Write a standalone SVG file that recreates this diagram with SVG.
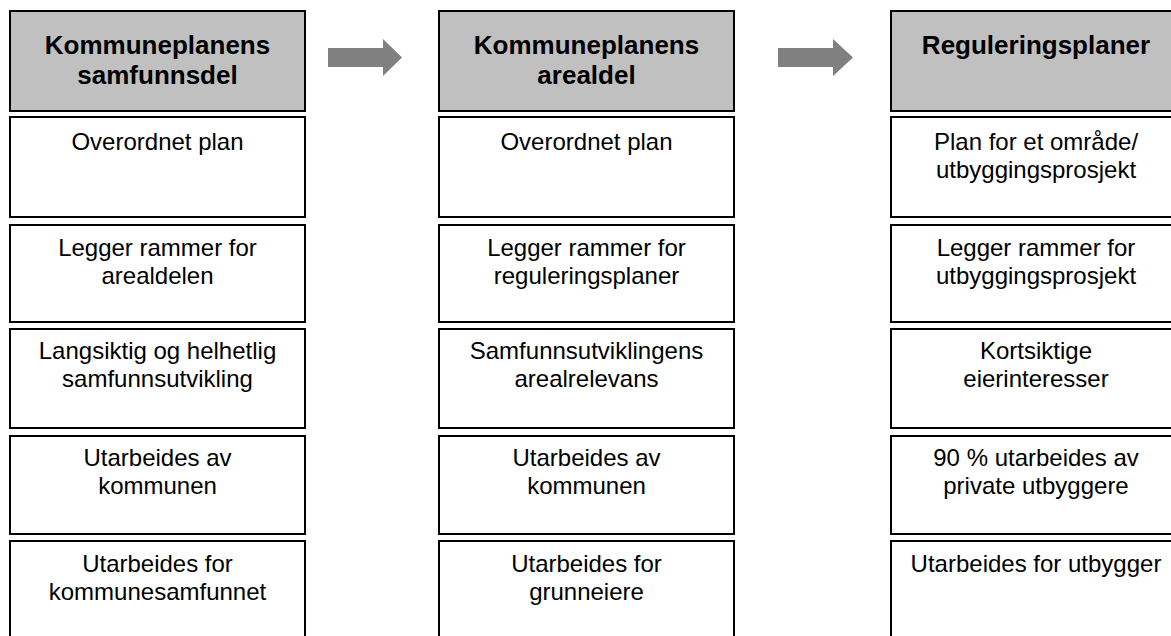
<svg xmlns="http://www.w3.org/2000/svg" width="1171" height="636" viewBox="0 0 1171 636">
<style>
.hd{fill:#c0c0c0;stroke:#000;stroke-width:2}
.bx{fill:#fff;stroke:#000;stroke-width:2}
.h{font-family:"Liberation Sans",Arial,sans-serif;font-weight:bold;font-size:26px;fill:#000;text-anchor:middle}
.t{font-family:"Liberation Sans",Arial,sans-serif;font-size:24px;fill:#000;text-anchor:middle}
.ar{fill:#808080}
</style>
<rect width="1171" height="636" fill="#fff"/>
<g id="col1">
<g id="c1h"><rect class="hd" x="10" y="11" width="295" height="100"/><text class="h" x="157.5" y="54">Kommuneplanens</text><text class="h" x="157.5" y="84">samfunnsdel</text></g>
<g id="c1r1"><rect class="bx" x="10" y="117" width="295" height="100"/><text class="t" x="157.5" y="150">Overordnet plan</text></g>
<g id="c1r2"><rect class="bx" x="10" y="225" width="295" height="97"/><text class="t" x="157.5" y="256">Legger rammer for</text><text class="t" x="157.5" y="284">arealdelen</text></g>
<g id="c1r3"><rect class="bx" x="10" y="329" width="295" height="99"/><text class="t" x="157.5" y="359">Langsiktig og helhetlig</text><text class="t" x="157.5" y="387">samfunnsutvikling</text></g>
<g id="c1r4"><rect class="bx" x="10" y="436" width="295" height="98"/><text class="t" x="157.5" y="466">Utarbeides av</text><text class="t" x="157.5" y="494">kommunen</text></g>
<g id="c1r5"><rect class="bx" x="10" y="541" width="295" height="110"/><text class="t" x="157.5" y="572">Utarbeides for</text><text class="t" x="157.5" y="600">kommunesamfunnet</text></g>
</g>
<g id="col2">
<g id="c2h"><rect class="hd" x="439" y="11" width="295" height="100"/><text class="h" x="586.5" y="54">Kommuneplanens</text><text class="h" x="586.5" y="84">arealdel</text></g>
<g id="c2r1"><rect class="bx" x="439" y="117" width="295" height="100"/><text class="t" x="586.5" y="150">Overordnet plan</text></g>
<g id="c2r2"><rect class="bx" x="439" y="225" width="295" height="97"/><text class="t" x="586.5" y="256">Legger rammer for</text><text class="t" x="586.5" y="284">reguleringsplaner</text></g>
<g id="c2r3"><rect class="bx" x="439" y="329" width="295" height="99"/><text class="t" x="586.5" y="359">Samfunnsutviklingens</text><text class="t" x="586.5" y="387">arealrelevans</text></g>
<g id="c2r4"><rect class="bx" x="439" y="436" width="295" height="98"/><text class="t" x="586.5" y="466">Utarbeides av</text><text class="t" x="586.5" y="494">kommunen</text></g>
<g id="c2r5"><rect class="bx" x="439" y="541" width="295" height="110"/><text class="t" x="586.5" y="572">Utarbeides for</text><text class="t" x="586.5" y="600">grunneiere</text></g>
</g>
<g id="col3">
<g id="c3h"><rect class="hd" x="891" y="11" width="295" height="100"/><text class="h" x="1036" y="54">Reguleringsplaner</text></g>
<g id="c3r1"><rect class="bx" x="891" y="117" width="295" height="100"/><text class="t" x="1036" y="150">Plan for et område/</text><text class="t" x="1036" y="178">utbyggingsprosjekt</text></g>
<g id="c3r2"><rect class="bx" x="891" y="225" width="295" height="97"/><text class="t" x="1036" y="256">Legger rammer for</text><text class="t" x="1036" y="284">utbyggingsprosjekt</text></g>
<g id="c3r3"><rect class="bx" x="891" y="329" width="295" height="99"/><text class="t" x="1036" y="359">Kortsiktige</text><text class="t" x="1036" y="387">eierinteresser</text></g>
<g id="c3r4"><rect class="bx" x="891" y="436" width="295" height="98"/><text class="t" x="1036" y="466">90 % utarbeides av</text><text class="t" x="1036" y="494">private utbyggere</text></g>
<g id="c3r5"><rect class="bx" x="891" y="541" width="295" height="110"/><text class="t" x="1036" y="572">Utarbeides for utbygger</text></g>
</g>
<g id="connectors">
<polygon class="ar" points="328,48 383,48 383,39 402,57.5 383,76 383,67 328,67"/>
<polygon class="ar" points="778,48 833,48 833,39 853,57.5 833,76 833,67 778,67"/>
</g>
</svg>
